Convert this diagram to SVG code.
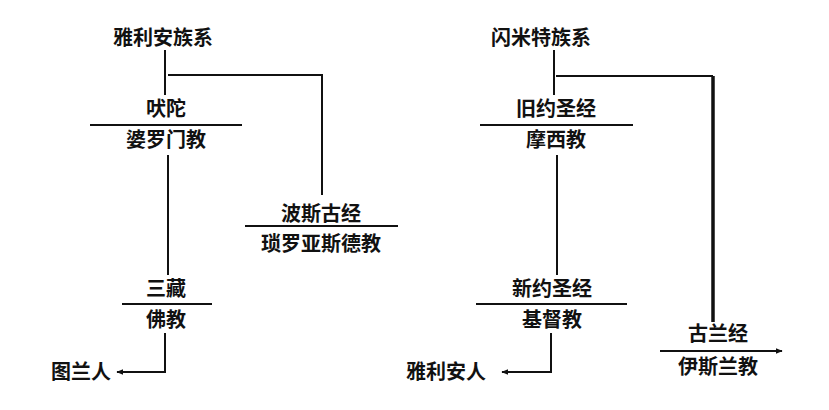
<svg xmlns="http://www.w3.org/2000/svg" width="829" height="410" viewBox="0 0 829 410">
<defs>
<style>
text{font-family:"Noto Sans CJK SC",sans-serif;font-size:20px;font-weight:bold;fill:#111;text-anchor:middle}
.l{stroke:#111;stroke-width:2;fill:none}
.t{stroke:#111;stroke-width:3.5;fill:none}
</style>
<marker id="a" viewBox="0 0 10 10" refX="9" refY="5" markerWidth="7" markerHeight="7" orient="auto" markerUnits="userSpaceOnUse"><path d="M0,1 L10,5 L0,9 Z" fill="#111"/></marker>
</defs>
<rect width="829" height="410" fill="#fff"/>
<g id="connectors">
<path class="l" d="M165,50 V95"/>
<path class="l" d="M168,75 H322 V195"/>
<path class="l" d="M168,155 V275"/>
<path class="l" d="M165,333 V372 H117" marker-end="url(#a)"/>
<path class="l" d="M554,50 V95"/>
<path class="l" d="M556,76 H713"/>
<path class="t" d="M713,76 V322"/>
<path class="l" d="M557,155 V275"/>
<path class="l" d="M551,333 V372 H502" marker-end="url(#a)"/>
</g>
<g id="aryan"><text x="163" y="45">雅利安族系</text></g>
<g id="veda"><text x="166" y="116">吠陀</text><path class="l" d="M90,125 H242"/><text x="166" y="147">婆罗门教</text></g>
<g id="avesta"><text x="321" y="221">波斯古经</text><path class="l" d="M245,226 H398"/><text x="321" y="251">琐罗亚斯德教</text></g>
<g id="tripitaka"><text x="166" y="296">三藏</text><path class="l" d="M122,304 H212"/><text x="166" y="327">佛教</text></g>
<g id="turan"><text x="81" y="379">图兰人</text></g>
<g id="semitic"><text x="541" y="45">闪米特族系</text></g>
<g id="ot"><text x="556" y="116">旧约圣经</text><path class="l" d="M480,125 H633"/><text x="556" y="147">摩西教</text></g>
<g id="nt"><text x="552" y="296">新约圣经</text><path class="l" d="M476,304 H627"/><text x="552" y="327">基督教</text></g>
<g id="arya2"><text x="446" y="379">雅利安人</text></g>
<g id="quran"><text x="718" y="341">古兰经</text><path class="l" d="M660,351 H782" marker-end="url(#a)"/><text x="718" y="374">伊斯兰教</text></g>
</svg>
